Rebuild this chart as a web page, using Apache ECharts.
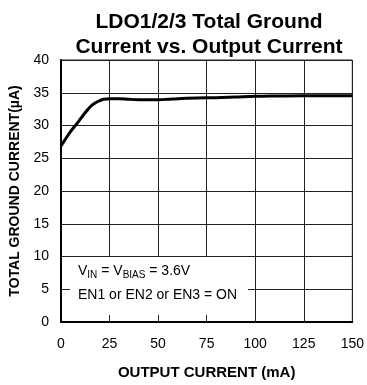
<!DOCTYPE html>
<html><head><meta charset="utf-8">
<script src="https://cdn.jsdelivr.net/npm/echarts@6/dist/echarts.min.js"></script>
<style>html,body{margin:0;padding:0;background:#fff}#c{width:367px;height:385px}</style>
</head><body><div id="c"></div>
<script>
const outputCurrent = [0, 2, 4, 6, 8, 10, 12, 14, 16, 18, 20, 22, 25, 30, 35, 40, 45, 50, 55, 60, 70, 80, 90, 100, 110, 125, 140, 150];
const groundCurrent = [26.9, 27.8, 28.7, 29.5, 30.2, 31.0, 31.8, 32.5, 33.1, 33.5, 33.8, 34.0, 34.1, 34.1, 34.0, 33.95, 33.95, 33.95, 34.0, 34.1, 34.2, 34.25, 34.35, 34.45, 34.5, 34.55, 34.55, 34.55];
const xTicks = [0, 25, 50, 75, 100, 125, 150];
const yTicks = [0, 5, 10, 15, 20, 25, 30, 35, 40];
const titleLines = ['LDO1/2/3 Total Ground', 'Current vs. Output Current'];
const xName = 'OUTPUT CURRENT (mA)';
const yName = 'TOTAL GROUND CURRENT(µA)';
const noteLines = ['V{s|IN} = V{s|BIAS} = 3.6V', 'EN1 or EN2 or EN3 = ON'];

const chart = echarts.init(document.getElementById('c'), null, {renderer: 'canvas'});
const F = 'Arial, "Liberation Sans", sans-serif';
chart.setOption({
  animation: false,
  backgroundColor: '#fff',
  title: {
    text: titleLines.join('\n'),
    left: 204, top: 5, textAlign: 'center',
    textStyle: {fontFamily: F, fontSize: 21, fontWeight: 'bold', color: '#000', lineHeight: 25}
  },
  grid: {left: 61, right: 12, top: 60, bottom: 60, show: true, borderColor: '#222', borderWidth: 1},
  xAxis: {
    type: 'value', min: xTicks[0], max: xTicks[xTicks.length - 1], interval: 25,
    name: xName, nameLocation: 'middle', nameGap: 43,
    nameTextStyle: {fontFamily: F, fontSize: 15, fontWeight: 'bold', color: '#000'},
    axisLine: {show: true, onZero: false, lineStyle: {color: '#000', width: 2}},
    axisTick: {show: false},
    axisLabel: {fontFamily: F, fontSize: 14, color: '#000', margin: 15, formatter: v => xTicks.includes(v) ? String(v) : ''},
    splitLine: {show: true, lineStyle: {color: '#222', width: 1}}
  },
  yAxis: {
    type: 'value', min: yTicks[0], max: yTicks[yTicks.length - 1], interval: 5,
    name: yName, nameLocation: 'middle', nameGap: 38, nameRotate: 90,
    nameTextStyle: {fontFamily: F, fontSize: 14, fontWeight: 'bold', color: '#000'},
    axisLine: {show: true, onZero: false, lineStyle: {color: '#000', width: 2}},
    axisTick: {show: false},
    axisLabel: {fontFamily: F, fontSize: 14, color: '#000', margin: 12, formatter: v => yTicks.includes(v) ? String(v) : ''},
    splitLine: {show: true, lineStyle: {color: '#222', width: 1}}
  },
  series: [{
    type: 'line', smooth: 0.4, symbol: 'none',
    data: outputCurrent.map((x, i) => [x, groundCurrent[i]]),
    lineStyle: {color: '#000', width: 3},
    z: 5
  }],
  graphic: [
    {type: 'rect', shape: {x: 70, y: 257, width: 178, height: 58}, style: {fill: '#fff'}, z: 10},
    {type: 'text', left: 78, top: 264, z: 11,
     style: {text: noteLines[0], font: '14px ' + F, fill: '#000',
       rich: {s: {fontSize: 10, fontFamily: F, fill: '#000', padding: [8, 0, 0, 0]}}}},
    {type: 'text', left: 78, top: 288, z: 11,
     style: {text: noteLines[1], font: '14px ' + F, fill: '#000'}}
  ]
});
</script></body></html>
